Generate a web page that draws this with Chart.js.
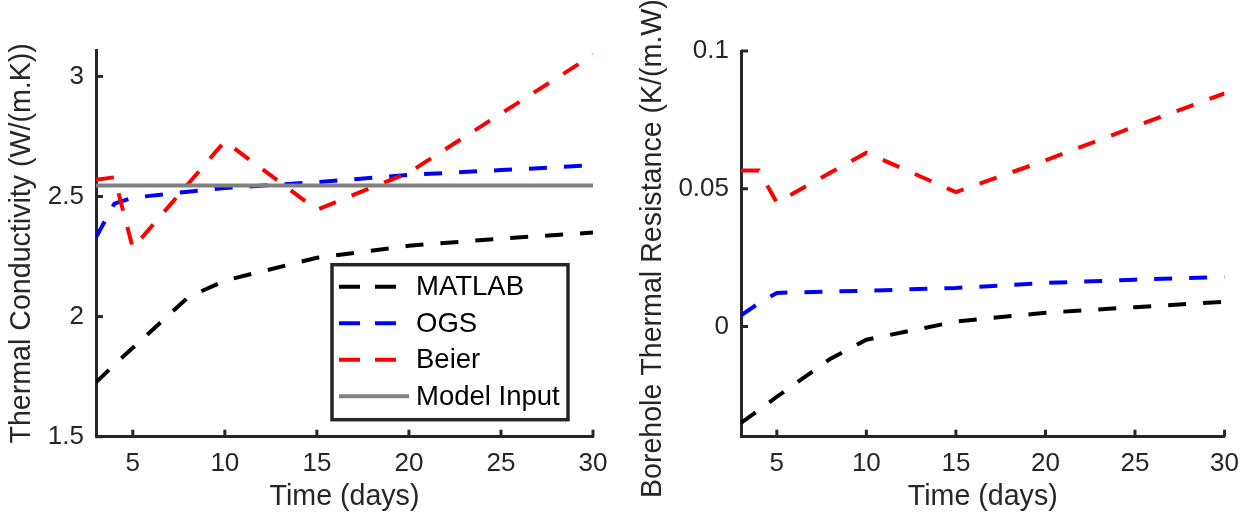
<!DOCTYPE html>
<html>
<head>
<meta charset="utf-8">
<script src="https://cdn.jsdelivr.net/npm/chart.js@4"></script>
<style>
  body { margin: 0; background: #fff; }
  .wrap { position: absolute; top: 0; width: 620px; height: 518px; }
</style>
</head>
<body>
<div class="wrap" style="left:0"><canvas id="condChart" width="620" height="518"></canvas></div>
<div class="wrap" style="left:631px"><canvas id="resChart" width="620" height="518"></canvas></div>
<script>
// days on the x axis
const days = [3, 4, 5, 8, 10, 15, 20, 25, 30];

// left panel: thermal conductivity W/(m.K)
const condMatlab = [1.726, 1.80, 1.87, 2.08, 2.15, 2.245, 2.295, 2.325, 2.35];
const condOgs    = [2.33, 2.47, 2.495, 2.52, 2.535, 2.56, 2.59, 2.61, 2.63];
const condBeier  = [2.57, 2.58, 2.285, 2.552, 2.73, 2.445, 2.60, 2.845, 3.09];
const condModel  = [2.546, 2.546, 2.546, 2.546, 2.546, 2.546, 2.546, 2.546, 2.546];

// right panel: borehole thermal resistance K/(m.W)
const resMatlab = [-0.035, -0.0303, -0.0255, -0.0117, -0.0048, 0.0018, 0.005, 0.007, 0.009];
const resOgs    = [0.004, 0.0085, 0.0122, 0.0127, 0.013, 0.014, 0.0158, 0.017, 0.018];
const resBeier  = [0.0566, 0.0566, 0.045, 0.0559, 0.0631, 0.0488, 0.0603, 0.0726, 0.0846];

const condTicks = [1.5, 2, 2.5, 3];
const resTicks = [0, 0.05, 0.1];
const dayTicks = [5, 10, 15, 20, 25, 30];

const FONT = "'Liberation Sans', Arial, sans-serif";
const AXIS = '#262626';
const DASH = [18, 17];

function pts(ys) {
    return days.map((d, i) => ({x: d, y: ys[i]}));
}

function line(label, ys, color, dashed, order) {
    return {
        label: label,
        data: pts(ys),
        borderColor: color,
        backgroundColor: color,
        borderWidth: 4,
        borderDash: dashed ? DASH : [],
        borderCapStyle: 'butt',
        pointRadius: 0,
        tension: 0,
        order: order
    };
}

// MATLAB style ticks pointing into the plot
const innerTicks = {
    id: 'innerTicks',
    afterDraw(chart) {
        const ctx = chart.ctx;
        const xs = chart.scales.x, ys = chart.scales.y;
        ctx.save();
        ctx.strokeStyle = AXIS;
        ctx.lineWidth = 3;
        xs.ticks.forEach(t => {
            const px = xs.getPixelForValue(t.value);
            ctx.beginPath();
            ctx.moveTo(px, xs.top);
            ctx.lineTo(px, xs.top - 7);
            ctx.stroke();
        });
        ys.ticks.forEach(t => {
            const py = ys.getPixelForValue(t.value);
            ctx.beginPath();
            ctx.moveTo(ys.right, py);
            ctx.lineTo(ys.right + 7, py);
            ctx.stroke();
        });
        ctx.restore();
    }
};

// legend box inside the plot, lower right
const boxLegend = {
    id: 'boxLegend',
    afterDraw(chart) {
        const ctx = chart.ctx;
        const a = chart.chartArea;
        const w = 236, h = 155;
        const x0 = a.right - 25 - w, y0 = a.bottom - 17 - h;
        ctx.save();
        ctx.fillStyle = '#fff';
        ctx.fillRect(x0, y0, w, h);
        ctx.strokeStyle = AXIS;
        ctx.lineWidth = 3.5;
        ctx.strokeRect(x0, y0, w, h);
        ctx.font = '27.5px ' + FONT;
        ctx.textBaseline = 'middle';
        chart.data.datasets.forEach((ds, i) => {
            const yy = y0 + 22 + i * 36.5;
            ctx.strokeStyle = ds.borderColor;
            ctx.lineWidth = 4;
            ctx.setLineDash(ds.borderDash.length ? [21, 15] : []);
            ctx.beginPath();
            ctx.moveTo(x0 + 7, yy);
            ctx.lineTo(x0 + 77, yy);
            ctx.stroke();
            ctx.setLineDash([]);
            ctx.fillStyle = '#000';
            ctx.fillText(ds.label, x0 + 84, yy + 1);
        });
        ctx.restore();
    }
};

function makeOptions(yMin, yMax, yStep, yTitle, yTicks, pad, yWidth) {
    return {
        responsive: false,
        animation: false,
        devicePixelRatio: 1,
        layout: {padding: pad},
        plugins: {legend: {display: false}, tooltip: {enabled: false}},
        scales: {
            x: {
                type: 'linear',
                min: 3,
                max: 30,
                afterFit(s) { s.height = 81.3; },
                afterBuildTicks(s) { s.ticks = dayTicks.map(v => ({value: v})); },
                grid: {display: false, drawTicks: false},
                border: {display: true, color: AXIS, width: 3},
                ticks: {
                    padding: 12,
                    color: AXIS,
                    font: {family: FONT, size: 26},
                    maxRotation: 0
                },
                title: {
                    display: true,
                    text: 'Time (days)',
                    color: AXIS,
                    font: {family: FONT, size: 28.6},
                    padding: {top: 0, bottom: 4}
                }
            },
            y: {
                type: 'linear',
                min: yMin,
                max: yMax,
                afterFit(s) { s.width = yWidth; },
                afterBuildTicks(s) { s.ticks = yTicks.map(v => ({value: v})); },
                grid: {display: false, drawTicks: false},
                border: {display: true, color: AXIS, width: 3},
                ticks: {
                    padding: 12,
                    color: AXIS,
                    font: {family: FONT, size: 26},
                    callback: v => String(+v.toFixed(3))
                },
                title: {
                    display: true,
                    text: yTitle,
                    color: AXIS,
                    font: {family: FONT, size: 28.6},
                    padding: {top: 5, bottom: 0}
                }
            }
        }
    };
}

new Chart(document.getElementById('condChart'), {
    type: 'line',
    data: {
        datasets: [
            line('MATLAB', condMatlab, '#000000', true, 3),
            line('OGS', condOgs, '#0000ff', true, 2),
            line('Beier', condBeier, '#ff0000', true, 1),
            line('Model Input', condModel, '#808080', false, 0)
        ]
    },
    options: makeOptions(1.5, 3.11, 0.5, 'Thermal Conductivity (W/(m.K))', condTicks,
        {top: 50, right: 27, bottom: 0, left: 0}, 96),
    plugins: [innerTicks, boxLegend]
});

new Chart(document.getElementById('resChart'), {
    type: 'line',
    data: {
        datasets: [
            line('MATLAB', resMatlab, '#000000', true, 3),
            line('OGS', resOgs, '#0000ff', true, 2),
            line('Beier', resBeier, '#ff0000', true, 1)
        ]
    },
    options: makeOptions(-0.04, 0.1, 0.05, 'Borehole Thermal Resistance (K/(m.W))', resTicks,
        {top: 51, right: 19, bottom: 0, left: 0}, 110),
    plugins: [innerTicks]
});
</script>
</body>
</html>
